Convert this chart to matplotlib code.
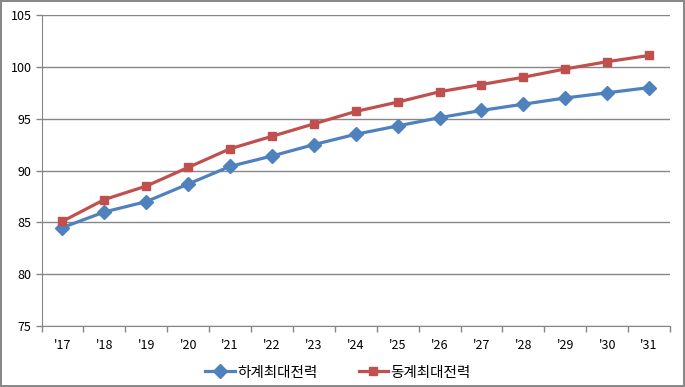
import matplotlib.pyplot as plt
import numpy as np

plt.rcParams['font.family'] = ['Noto Sans CJK KR', 'DejaVu Sans']

years = ["'17", "'18", "'19", "'20", "'21", "'22", "'23", "'24",
         "'25", "'26", "'27", "'28", "'29", "'30", "'31"]
summer = [84.5, 86.0, 87.0, 88.7, 90.4, 91.4, 92.5, 93.5,
          94.3, 95.1, 95.8, 96.4, 97.0, 97.5, 98.0]
winter = [85.1, 87.2, 88.5, 90.3, 92.1, 93.3, 94.5, 95.7,
          96.6, 97.6, 98.3, 99.0, 99.8, 100.5, 101.1]
labels = ['하계최대전력', '동계최대전력']

fig = plt.figure(figsize=(6.85, 3.87), dpi=100)
fig.patch.set_edgecolor('#888888')
fig.patch.set_linewidth(1.5)
ax = fig.add_axes([0.0606, 0.1576, 0.9175, 0.8035])

x = np.arange(len(years))
ax.plot(x, summer, color='#4F81BD', lw=2.3, marker='D', ms=7, label=labels[0])
ax.plot(x, winter, color='#C0504D', lw=2.3, marker='s', ms=5.5, label=labels[1])

ax.set_xlim(-0.5, len(years) - 0.5)
ax.set_ylim(75, 105)
ax.set_yticks(np.arange(75, 106, 5))
ax.yaxis.grid(True, color='#868686', lw=1)
ax.set_axisbelow(True)

ax.set_xticks(x)
ax.set_xticklabels(years)
ax.set_xticks(np.arange(-0.5, len(years), 1), minor=True)
ax.tick_params(axis='x', which='major', length=0, pad=9, labelsize=9)
ax.tick_params(axis='x', which='minor', length=4, color='#868686', width=1)
ax.tick_params(axis='y', length=4, color='#868686', width=1, labelsize=9, pad=3)

for s in ['top', 'right']:
    ax.spines[s].set_visible(False)
for s in ['left', 'bottom']:
    ax.spines[s].set_color('#868686')

ax.legend(loc='upper center', bbox_to_anchor=(0.472, -0.085), ncol=2, frameon=False,
          fontsize=10.5, handlelength=2.0, handletextpad=0.2, columnspacing=2.8)

fig.savefig('out.png', dpi=100, facecolor='white', edgecolor=fig.get_edgecolor())
